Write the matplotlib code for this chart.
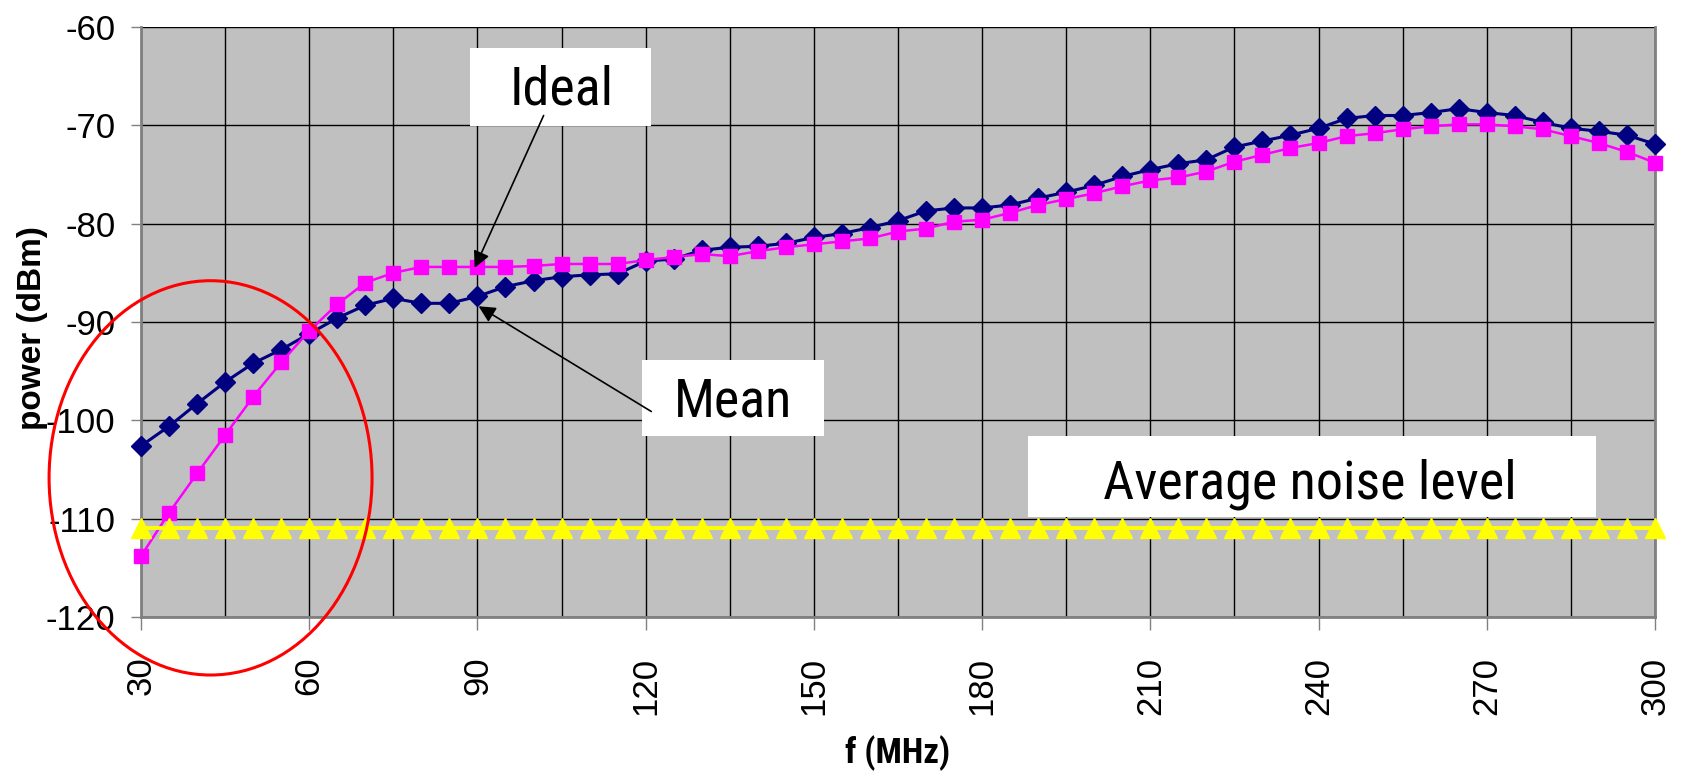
import matplotlib
matplotlib.use("Agg")
import matplotlib.pyplot as plt
from matplotlib import font_manager
from matplotlib.patches import Ellipse, Rectangle
import numpy as np

# frequencias (MHz), passo de 5
freq = list(range(30, 305, 5))

# Mean (azul marinho, losango)
mean = [-102.6, -100.6, -98.3, -96.1, -94.2, -92.8, -91.2, -89.6, -88.3, -87.6,
        -88.1, -88.1, -87.4, -86.4, -85.8, -85.4, -85.2, -85.1, -83.8, -83.6,
        -82.7, -82.4, -82.3, -82.0, -81.4, -81.0, -80.4, -79.7, -78.7, -78.4,
        -78.4, -78.1, -77.4, -76.8, -76.1, -75.2, -74.5, -73.9, -73.5, -72.2,
        -71.6, -71.0, -70.3, -69.3, -69.0, -69.0, -68.7, -68.3, -68.7, -69.0,
        -69.7, -70.3, -70.6, -71.0, -71.9]

# Ideal (magenta, quadrado)
ideal = [-113.8, -109.4, -105.4, -101.5, -97.6, -94.1, -90.9, -88.2, -86.0, -85.0,
         -84.4, -84.4, -84.4, -84.4, -84.3, -84.1, -84.1, -84.1, -83.7, -83.4,
         -83.1, -83.3, -82.8, -82.4, -82.1, -81.8, -81.5, -80.8, -80.5, -79.8,
         -79.6, -78.9, -78.1, -77.5, -76.9, -76.2, -75.6, -75.3, -74.7, -73.7,
         -73.0, -72.3, -71.8, -71.1, -70.8, -70.4, -70.1, -69.9, -69.9, -70.1,
         -70.4, -71.1, -71.8, -72.7, -73.8]

# nivel medio de ruido
noise = [-111.0] * len(freq)

plt.rcParams['font.family'] = ['Liberation Sans', 'DejaVu Sans']
plt.rcParams['axes.unicode_minus'] = False

# fonte estreita, se houver
nomes = {f.name for f in font_manager.fontManager.ttflist}
estreitas = ['Liberation Sans Narrow', 'Arial Narrow', 'DejaVu Sans Condensed',
             'Roboto Condensed', 'Open Sans Condensed']
narrow = next((n for n in estreitas if n in nomes), None)
if narrow:
    fam_narrow, tam = [narrow, 'DejaVu Sans'], 39
else:
    fam_narrow, tam = ['Liberation Sans', 'DejaVu Sans'], 30

fig = plt.figure(figsize=(16.87, 7.76), dpi=100)
ax = fig.add_axes([0.0836, 0.2049, 0.981 - 0.0836, 0.9652 - 0.2049])
ax.set_facecolor('#C0C0C0')

ax.plot(freq, mean, color='#000080', lw=2.2, marker='D', ms=10.5, clip_on=False, zorder=3)
ax.plot(freq, ideal, color='#FF00FF', lw=1.8, marker='s', ms=10.5, clip_on=False, zorder=4)
ax.plot(freq, noise, color='#FFFF00', lw=2.8, marker='^', ms=15, clip_on=False, zorder=5)

ax.set_xlim(30, 300)
ax.set_ylim(-120, -60)
ax.set_xticks(np.arange(30, 301, 30))
ax.set_xticks(np.arange(45, 300, 30), minor=True)
ax.set_yticks(np.arange(-120, -59, 10))
ax.grid(True, which='both', color='black', lw=1)
ax.set_axisbelow(True)

ax.tick_params(axis='x', which='major', direction='out', length=9.5, width=1,
               color='#808080', pad=19, labelsize=25, labelrotation=90)
ax.tick_params(axis='x', which='minor', length=0)
ax.tick_params(axis='y', direction='out', length=7.5, width=1, color='#808080',
               pad=11, labelsize=25)

for s in ['left', 'bottom', 'right']:
    ax.spines[s].set_color('#808080')
    ax.spines[s].set_linewidth(2)
ax.spines['top'].set_visible(False)

ax.set_xlabel('f (MHz)', fontsize=25 if narrow else 23, fontweight='bold', family=fam_narrow)
ax.xaxis.set_label_coords(0.5, -0.23)
ax.xaxis.label.set_va('center')
ax.set_ylabel('power (dBm)', fontsize=24, fontweight='bold')
ax.yaxis.set_label_coords(-0.072, 0.49)
ax.yaxis.label.set_va('center')

# caixas de texto brancas
caixas = [(88.6, -70.1, 32.4, 8.0, 'Ideal', 105.0, -67.9),
          (119.4, -101.6, 32.4, 7.7, 'Mean', 135.5, -99.6),
          (188.1, -109.8, 101.4, 8.2, 'Average noise level', 238.5, -107.9)]
for x0, y0, w, h, txt, tx, ty in caixas:
    ax.add_patch(Rectangle((x0, y0), w, h, facecolor='white', edgecolor='none', zorder=6))
    ax.text(tx, ty, txt, ha='center', va='baseline', fontsize=tam, family=fam_narrow, zorder=7)

seta = dict(arrowstyle='-|>,head_length=0.5,head_width=0.25', color='black', lw=1.2,
            mutation_scale=20, shrinkA=0, shrinkB=0)
ax.annotate('', xy=(89.5, -84.5), xytext=(101.8, -69.0), arrowprops=seta, zorder=7)
ax.annotate('', xy=(90.2, -88.4), xytext=(121.0, -99.1), arrowprops=seta, zorder=7)

ax.add_patch(Ellipse((42.4, -105.85), 57.6, 40.1, facecolor='none', edgecolor='#FF0000',
                     lw=2.2, clip_on=False, zorder=8))

fig.savefig('out.png', dpi=100)
